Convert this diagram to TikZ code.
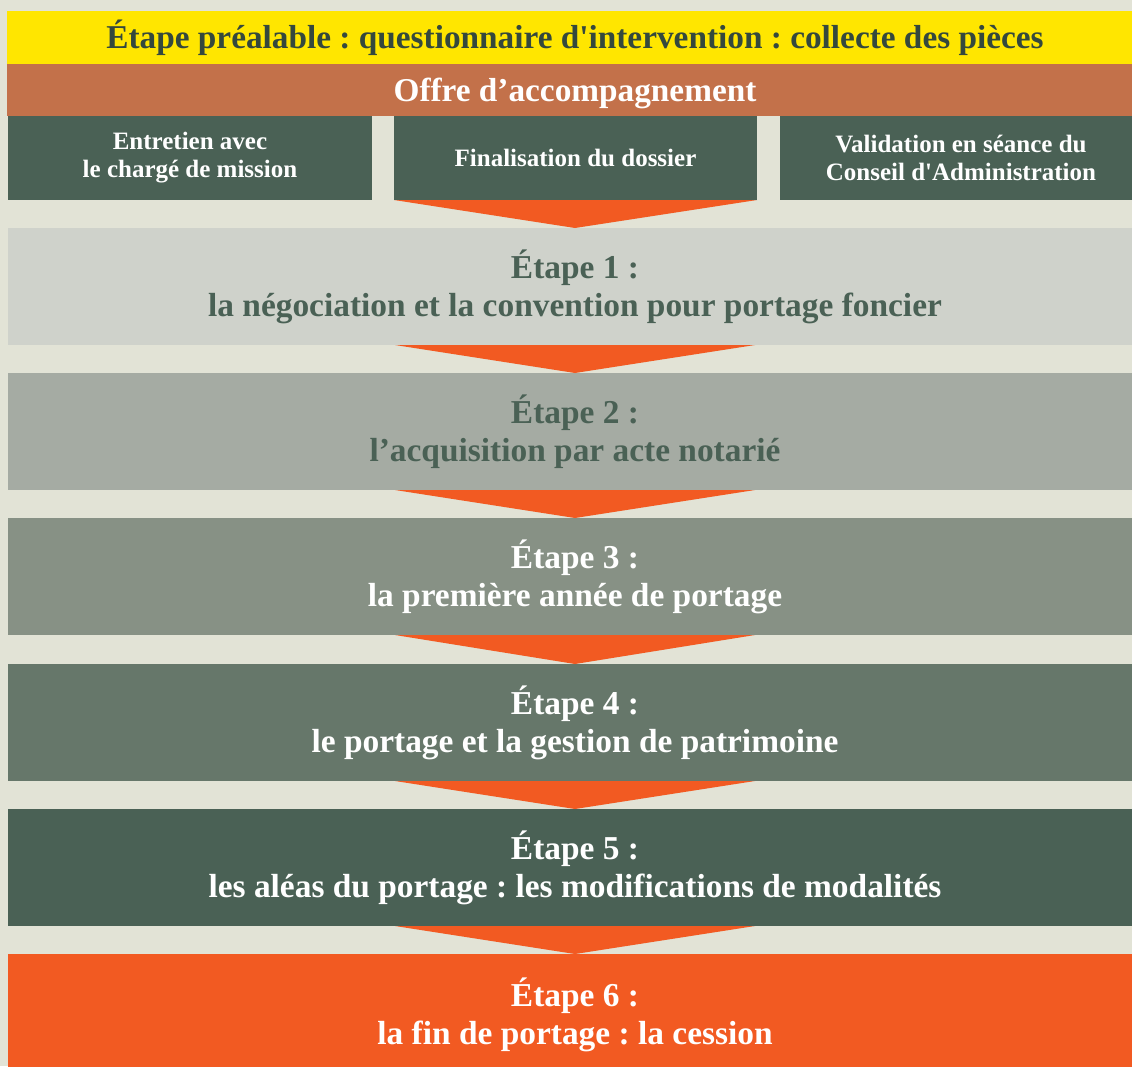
\documentclass[tikz,border=0pt]{standalone}
\usepackage{fontspec}
\setmainfont{Liberation Serif}
\usetikzlibrary{calc}
\frenchspacing
\newcommand{\apos}{\textquotesingle}
\definecolor{bg}{HTML}{E2E3D6}
\definecolor{jaune}{HTML}{FFE600}
\definecolor{brique}{HTML}{C3714A}
\definecolor{vertfonce}{HTML}{4A6155}
\definecolor{textfonce}{HTML}{34483D}
\definecolor{etapeA}{HTML}{CFD2CB}
\definecolor{etapeB}{HTML}{A5ABA3}
\definecolor{etapeC}{HTML}{879185}
\definecolor{etapeD}{HTML}{66776A}
\definecolor{etapeE}{HTML}{4A6155}
\definecolor{orangevif}{HTML}{F25A22}
\begin{document}
\begin{tikzpicture}[x=1pt,y=-1pt,
  bandbox/.style={anchor=north west, inner sep=0pt, outer sep=0pt, align=center, font=\bfseries\fontsize{33.3}{38}\selectfont},
  subbox/.style={anchor=north west, inner sep=0pt, outer sep=0pt, fill=vertfonce, text=white, align=center,
     minimum height=84pt, font=\bfseries\fontsize{25}{28}\selectfont},
  stepbox/.style={anchor=north west, inner sep=0pt, outer sep=0pt, align=center, minimum width=1134pt,
     minimum height=117pt, font=\bfseries\fontsize{33.4}{38}\selectfont},
  arrowtri/.style={fill=orangevif}
]
\useasboundingbox (0,0) rectangle (1132,1066);
\clip (0,0) rectangle (1132,1066);
\fill[bg] (0,0) rectangle (1132,1066);

\node[bandbox, fill=jaune, text=textfonce, minimum width=1136pt, minimum height=53pt] (pre) at (7,11)
  {Étape préalable : questionnaire d\apos intervention : collecte des pièces};
\node[bandbox, fill=brique, text=white, minimum width=1136pt, minimum height=52pt] (offre) at (7,64)
  {\raisebox{-3pt}[\height][\depth]{Offre d’accompagnement}};

\node[subbox, minimum width=364pt] (entretien) at (8,116) {Entretien avec\\le chargé de mission};
\node[subbox, minimum width=363pt] (final) at (394,116) {Finalisation du dossier};
\node[subbox, minimum width=362pt] (valid) at (780,116) {Validation en séance du\\Conseil d\apos Administration};

\node[stepbox, fill=etapeA, text=vertfonce] (e1) at (8,228) {Étape 1 :\\la négociation et la convention pour portage foncier};
\node[stepbox, fill=etapeB, text=vertfonce] (e2) at (8,373) {Étape 2 :\\l’acquisition par acte notarié};
\node[stepbox, fill=etapeC, text=white] (e3) at (8,518) {Étape 3 :\\la première année de portage};
\node[stepbox, fill=etapeD, text=white] (e4) at (8,664) {Étape 4 :\\le portage et la gestion de patrimoine};
\node[stepbox, fill=etapeE, text=white] (e5) at (8,809) {Étape 5 :\\les aléas du portage : les modifications de modalités};
\node[stepbox, fill=orangevif, text=white, minimum height=121pt] (e6) at (8,954) {Étape 6 :\\la fin de portage : la cession};

\fill[arrowtri] (final.south west) -- (final.south east) -- (e1.north) -- cycle;
\foreach \a/\b in {e1/e2,e2/e3,e3/e4,e4/e5,e5/e6}{
  \fill[arrowtri] ($(\a.south)+(-180,0)$) -- ($(\a.south)+(180,0)$) -- (\b.north) -- cycle;
}
\end{tikzpicture}
\end{document}
